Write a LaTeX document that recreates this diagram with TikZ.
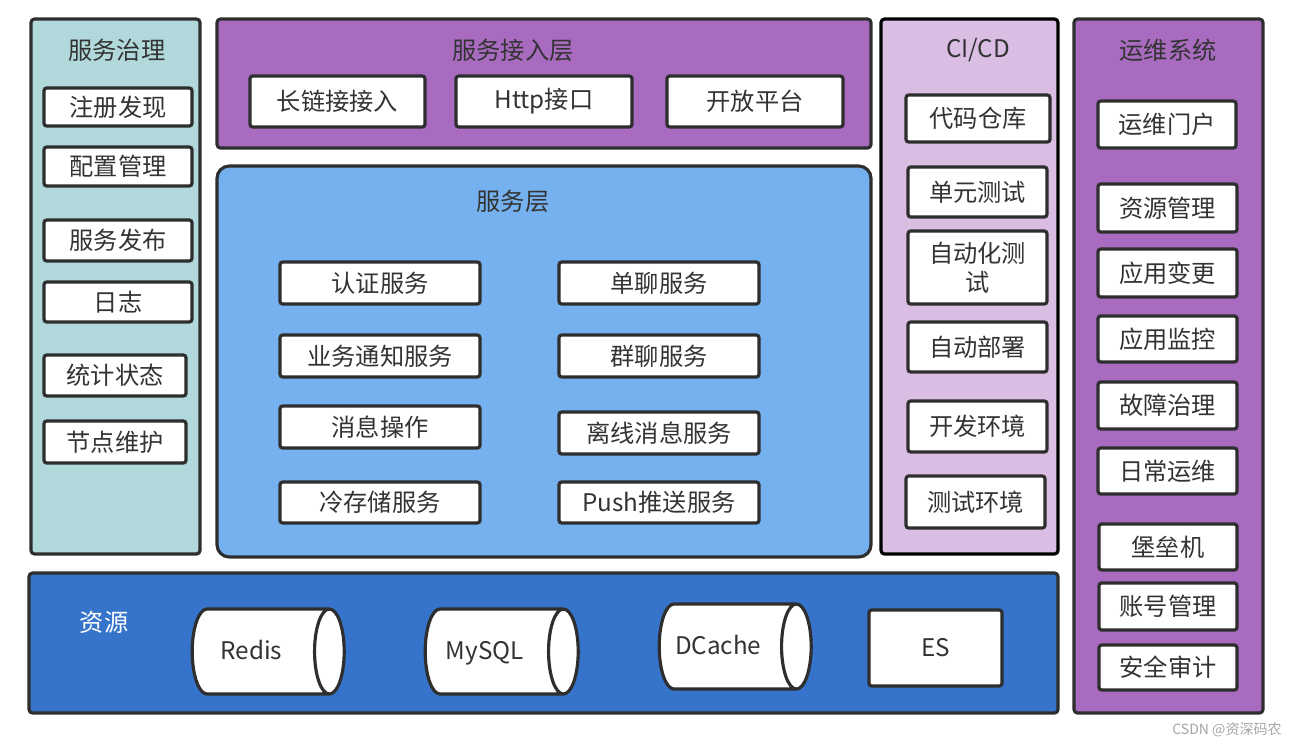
\documentclass[tikz,border=0pt]{standalone}
\usepackage{fontspec}
\setmainfont{Noto Sans CJK SC}
\usetikzlibrary{shapes.geometric}
\definecolor{bd}{HTML}{2E2E2E}
\definecolor{tx}{HTML}{333333}
\definecolor{teal}{HTML}{B1D9DC}
\definecolor{purp}{HTML}{A86BC0}
\definecolor{lpurp}{HTML}{D9BDE3}
\definecolor{lblue}{HTML}{74B1EE}
\definecolor{dblue}{HTML}{3574CA}
\newcommand\fs{\fontsize{13.8}{16.5}\selectfont}
\newcommand\bx[7][box]{\node[#1, minimum width={(#5-#3)*0.02cm}, minimum height={(#6-#4)*0.02cm}] (#2) at ({(#3+#5)/2},{(#4+#6)/2}) {#7};}
\newcommand\cy[6]{\node[cyl, minimum height={(#4-#2)*0.02cm}, minimum width={(#5-#3)*0.02cm}] (#1) at ({(#2+#4)/2-7},{(#3+#5)/2}) {#6\hspace*{0.35cm}};}
\tikzset{
  panel/.style={draw=bd, line width=1.8pt, rounded corners=2pt, inner sep=0pt},
  box/.style={draw=bd, fill=white, line width=1.8pt, rounded corners=1.5pt, font=\fs, text=tx, inner sep=0pt, align=center},
  ttl/.style={font=\fs, text=tx, inner sep=0pt},
  cyl/.style={cylinder, draw=bd, fill=white, line width=1.8pt, aspect=1.25, font=\fs, text=tx, inner sep=0pt, text height=1.15em, text depth=0.2em}
}
\begin{document}
\begin{tikzpicture}[x=0.02cm, y=-0.02cm]
\useasboundingbox (0,0) rectangle (1298,748);
% panels
\bx[panel, fill=teal]{pGov}{31}{19}{200}{554}{}
\bx[panel, fill=purp]{pAcc}{217}{19}{871}{148}{}
\bx[panel, fill=lblue, rounded corners=7pt]{pSvc}{217}{166}{871}{557}{}
\bx[panel, fill=lpurp, draw=black]{pCI}{881}{19}{1058}{554}{}
\bx[panel, fill=purp]{pOps}{1074}{19}{1263}{713}{}
\bx[panel, fill=dblue]{pRes}{29}{573}{1058}{713}{}
% titles
\node[ttl] (tGov) at (117,50) {服务治理};
\node[ttl] (tAcc) at (513,50) {服务接入层};
\node[ttl] (tSvc) at (513,201) {服务层};
\node[ttl] (tCI) at (978,50) {CI/CD};
\node[ttl] (tOps) at (1168,50) {运维系统};
\node[ttl, text=white] (tRes) at (104,622) {资源};
% governance
\bx{g1}{44}{88}{192}{126}{注册发现}
\bx{g2}{44}{147}{192}{186}{配置管理}
\bx{g3}{44}{220}{192}{261}{服务发布}
\bx{g4}{44}{282}{192}{322}{日志}
\bx{g5}{44}{355}{186}{396}{统计状态}
\bx{g6}{44}{421}{186}{463}{节点维护}
% access
\bx{a1}{250}{76}{425}{127}{长链接接入}
\bx{a2}{456}{76}{632}{127}{Http接口}
\bx{a3}{667}{76}{843}{127}{开放平台}
% services
\bx{s1}{280}{262}{480}{304}{认证服务}
\bx{s2}{559}{262}{759}{304}{单聊服务}
\bx{s3}{280}{335}{480}{377}{业务通知服务}
\bx{s4}{559}{335}{759}{377}{群聊服务}
\bx{s5}{280}{406}{480}{448}{消息操作}
\bx{s6}{559}{412}{759}{454}{离线消息服务}
\bx{s7}{280}{482}{480}{523}{冷存储服务}
\bx{s8}{559}{482}{759}{523}{Push推送服务}
% CI/CD
\bx{c1}{906}{95}{1050}{142}{代码仓库}
\bx{c2}{908}{167}{1047}{217}{单元测试}
\bx{c3}{908}{231}{1047}{304}{自动化测\\试}
\bx{c4}{908}{322}{1047}{372}{自动部署}
\bx{c5}{908}{401}{1047}{452}{开发环境}
\bx{c6}{906}{476}{1045}{528}{测试环境}
% ops
\bx{o1}{1098}{101}{1236}{148}{运维门户}
\bx{o2}{1098}{184}{1237}{232}{资源管理}
\bx{o3}{1098}{249}{1237}{297}{应用变更}
\bx{o4}{1098}{316}{1237}{362}{应用监控}
\bx{o5}{1098}{382}{1237}{429}{故障治理}
\bx{o6}{1098}{448}{1237}{494}{日常运维}
\bx{o7}{1099}{524}{1237}{570}{堡垒机}
\bx{o8}{1099}{583}{1237}{630}{账号管理}
\bx{o9}{1099}{645}{1237}{690}{安全审计}
% resources
\cy{r1}{191}{609}{343}{694}{Redis}
\cy{r2}{424}{609}{577}{694}{MySQL}
\cy{r3}{658}{604}{810}{689}{DCache}
\bx{r4}{869}{610}{1002}{686}{ES}
% watermark
\node[font=\fontsize{8}{9}\selectfont, text=black!35, inner sep=0pt] (wm) at (1227,730) {CSDN @资深码农};
\end{tikzpicture}
\end{document}
